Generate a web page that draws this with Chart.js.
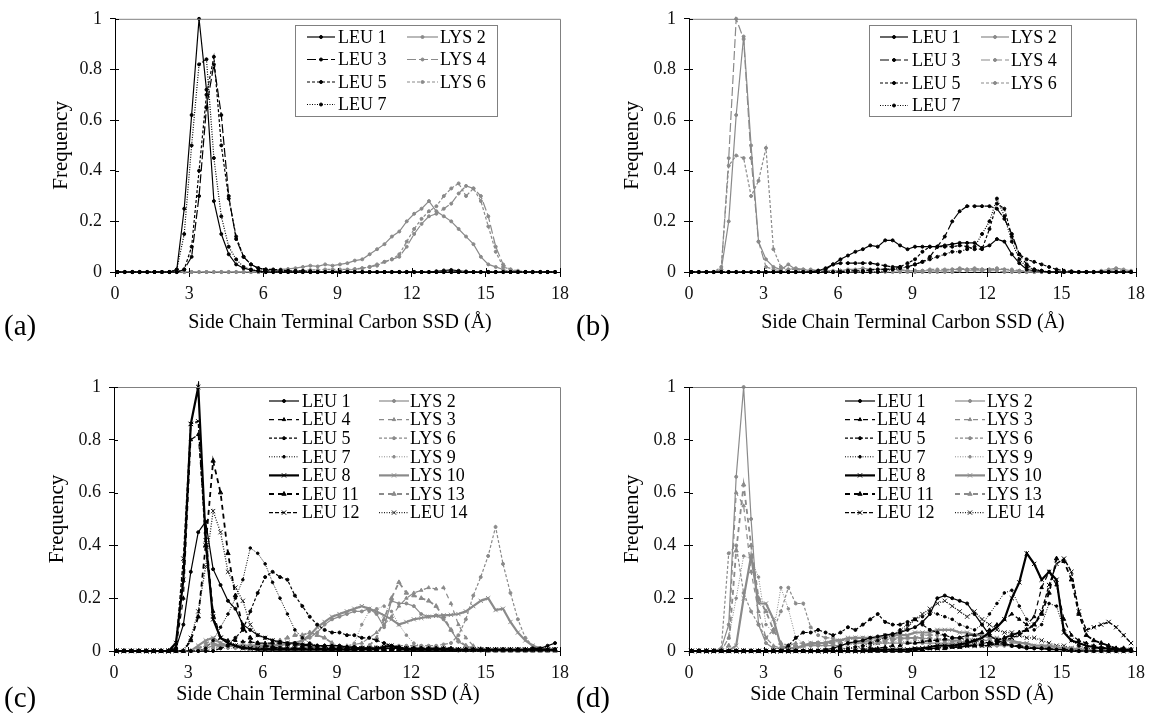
<!DOCTYPE html>
<html><head><meta charset="utf-8">
<script src="https://cdn.jsdelivr.net/npm/chart.js@4.4.1/dist/chart.umd.min.js"></script>
<style>
body{margin:0;background:#fff;width:1151px;height:713px;position:relative;overflow:hidden;font-family:"Liberation Serif","Times New Roman",serif;}
canvas{position:absolute;display:block;}
.lab{position:absolute;font-size:29px;color:#000;line-height:34px;}
</style></head><body>
<canvas id="ca" width="575" height="345" style="left:0;top:0"></canvas>
<canvas id="cb" width="576" height="345" style="left:575px;top:0"></canvas>
<canvas id="cc" width="575" height="368" style="left:0;top:345px"></canvas>
<canvas id="cd" width="576" height="368" style="left:575px;top:345px"></canvas>
<div class="lab" style="left:4px;top:308px">(a)</div>
<div class="lab" style="left:576px;top:308px">(b)</div>
<div class="lab" style="left:4px;top:680px">(c)</div>
<div class="lab" style="left:576px;top:680px">(d)</div>
<script>
// ---------- data ----------
const binX = [0.1,0.4,0.7,1.0,1.3,1.6,1.9,2.2,2.5,2.8,3.1,3.4,3.7,4.0,4.3,4.6,4.9,5.2,5.5,5.8,6.1,6.4,6.7,7.0,7.3,7.6,7.9,8.2,8.5,8.8,9.1,9.4,9.7,10.0,10.3,10.6,10.9,11.2,11.5,11.8,12.1,12.4,12.7,13.0,13.3,13.6,13.9,14.2,14.5,14.8,15.1,15.4,15.7,16.0,16.3,16.6,16.9,17.2,17.5,17.8];
const xTicks = [0,3,6,9,12,15,18];
const yTicks = [0,0.2,0.4,0.6,0.8,1];
const xTitle = 'Side Chain Terminal Carbon SSD (Å)';
const yTitle = 'Frequency';

// panel (a)
const a_LEU1 = [0,0,0,0,0,0,0,0,0.01,0.25, 0.62,1,0.72,0.28,0.15,0.07,0.03,0.015,0.008,0.004, 0,0,0,0,0,0,0,0,0,0, 0,0,0,0,0,0,0,0,0,0, 0,0,0,0.003,0.006,0.008,0.005,0.002,0,0, 0,0,0,0,0,0,0,0,0,0];
const a_LEU3 = [0,0,0,0,0,0,0,0,0,0.01, 0.06,0.3,0.65,0.82,0.62,0.3,0.13,0.06,0.03,0.015, 0.01,0.005,0.003,0,0,0,0,0,0,0, 0,0,0,0,0,0,0,0,0,0, 0,0,0,0,0,0,0,0,0,0, 0,0,0,0,0,0,0,0,0,0];
const a_LEU5 = [0,0,0,0,0,0,0,0,0,0.01, 0.1,0.4,0.7,0.85,0.5,0.29,0.14,0.06,0.03,0.015, 0.01,0.01,0.008,0.005,0.005,0.004,0.003,0,0,0, 0,0,0,0,0,0,0,0,0,0, 0,0,0,0,0,0,0,0,0,0, 0,0,0,0,0,0,0,0,0,0];
const a_LEU7 = [0,0,0,0,0,0,0,0,0.01,0.15, 0.5,0.82,0.84,0.45,0.22,0.1,0.05,0.02,0.01,0.005, 0,0,0,0,0,0,0,0,0,0, 0,0,0,0,0,0,0,0,0,0, 0,0,0,0,0,0,0,0,0,0, 0,0,0,0,0,0,0,0,0,0];
const a_LYS2 = [0,0,0,0,0,0,0,0,0,0, 0,0,0,0,0,0,0,0,0,0, 0.005,0.008,0.01,0.012,0.015,0.02,0.025,0.022,0.03,0.025, 0.03,0.035,0.045,0.05,0.07,0.09,0.11,0.14,0.16,0.2, 0.23,0.25,0.28,0.24,0.22,0.2,0.17,0.14,0.11,0.06, 0.03,0.02,0.01,0,0,0,0,0,0,0];
const a_LYS4 = [0,0,0,0,0,0,0,0,0,0, 0,0,0,0,0,0,0,0,0,0, 0,0,0,0,0,0,0,0,0.002,0.003, 0.005,0.008,0.01,0.015,0.02,0.03,0.04,0.05,0.06,0.1, 0.15,0.19,0.22,0.23,0.25,0.27,0.31,0.34,0.33,0.3, 0.22,0.1,0.03,0.01,0,0,0,0,0,0];
const a_LYS6 = [0,0,0,0,0,0,0,0,0,0, 0,0,0,0,0,0,0,0,0,0, 0.003,0.004,0.005,0.005,0.006,0.006,0.008,0.008,0.01,0.01, 0.01,0.01,0.012,0.015,0.02,0.025,0.04,0.05,0.07,0.12, 0.17,0.21,0.24,0.26,0.3,0.33,0.35,0.3,0.33,0.28, 0.18,0.08,0.02,0.01,0.005,0,0,0,0,0];

// panel (b)
const b_LEU1 = [0,0,0,0,0,0,0,0,0,0, 0,0,0,0,0,0,0,0.005,0.015,0.03, 0.05,0.065,0.08,0.09,0.105,0.1,0.125,0.125,0.105,0.09, 0.1,0.1,0.1,0.1,0.105,0.11,0.115,0.115,0.115,0.095, 0.105,0.13,0.12,0.07,0.035,0.01,0.005,0.003,0,0, 0,0,0,0,0,0,0,0,0,0];
const b_LEU3 = [0,0,0,0,0,0,0,0,0,0, 0,0,0,0,0,0,0,0.005,0.01,0.03, 0.035,0.035,0.035,0.035,0.035,0.03,0.025,0.02,0.02,0.02, 0.03,0.04,0.06,0.1,0.14,0.2,0.24,0.26,0.26,0.26, 0.26,0.25,0.21,0.15,0.07,0.03,0.01,0.005,0,0, 0,0,0,0,0,0,0,0,0,0];
const b_LEU5 = [0,0,0,0,0,0,0,0,0,0, 0,0,0,0,0,0,0,0,0,0, 0,0.005,0.005,0.005,0.008,0.01,0.01,0.012,0.02,0.035, 0.05,0.08,0.1,0.1,0.1,0.1,0.105,0.1,0.09,0.09, 0.17,0.27,0.25,0.14,0.07,0.05,0.04,0.03,0.02,0.01, 0.005,0.003,0,0,0,0,0,0,0,0];
const b_LEU7 = [0,0,0,0,0,0,0,0,0,0, 0,0,0,0,0,0,0,0,0,0, 0,0,0,0,0,0,0.005,0.01,0.015,0.02, 0.03,0.04,0.05,0.06,0.07,0.08,0.08,0.09,0.1,0.15, 0.2,0.29,0.22,0.12,0.05,0.02,0.01,0.005,0,0, 0,0,0,0,0,0,0,0,0,0];
const b_LYS2 = [0,0,0,0,0.01,0.2,0.62,0.93,0.5,0.12, 0.05,0.02,0.01,0.03,0.01,0.01,0.005,0.005,0.005,0.005, 0.005,0.01,0.01,0.015,0.01,0.01,0.01,0.01,0.01,0.005, 0.005,0.005,0.005,0.005,0.005,0.01,0.01,0.01,0.015,0.01, 0.01,0.01,0.01,0.005,0.005,0,0,0,0,0, 0,0,0,0,0,0.005,0.01,0.015,0.01,0.005];
const b_LYS4 = [0,0,0,0,0.01,0.45,1,0.92,0.45,0.12, 0.02,0.01,0.005,0.01,0.015,0.01,0.01,0.005,0,0, 0,0,0,0,0,0,0,0,0,0, 0,0,0,0,0,0,0.005,0.005,0.005,0.005, 0.005,0.005,0,0,0,0,0,0,0,0, 0,0,0,0,0,0,0.005,0.01,0.005,0];
const b_LYS6 = [0,0,0,0,0.02,0.42,0.46,0.45,0.3,0.36, 0.49,0.09,0.02,0.01,0.01,0.005,0.005,0,0,0, 0.005,0.005,0.005,0.005,0.01,0.01,0.01,0.01,0.005,0.005, 0.005,0.005,0.01,0.01,0.01,0.01,0.015,0.01,0.01,0.01, 0.01,0.015,0.01,0.01,0.005,0.005,0,0,0,0, 0,0,0,0,0,0,0,0,0,0];

// panel (c)
const c_LEU1 = [0,0,0,0,0,0,0,0,0.01,0.1, 0.3,0.45,0.49,0.31,0.25,0.19,0.16,0.1,0.08,0.06, 0.05,0.04,0.035,0.03,0.03,0.025,0.025,0.02,0.02,0.02, 0.02,0.015,0.015,0.01,0.01,0.01,0.01,0.01,0.01,0.01, 0.01,0.01,0.005,0.005,0.005,0.005,0.005,0.005,0.005,0.005, 0.005,0.005,0.005,0.005,0.005,0.005,0.01,0.01,0.02,0.03];
const c_LEU4 = [0,0,0,0,0,0,0,0,0.01,0.2, 0.8,0.82,0.45,0.15,0.05,0.04,0.04,0.035,0.035,0.03, 0.03,0.03,0.03,0.025,0.025,0.02,0.02,0.02,0.02,0.015, 0.015,0.015,0.015,0.01,0.01,0.01,0.01,0.01,0.01,0.01, 0.01,0.01,0.01,0.01,0.01,0.01,0.005,0.005,0.005,0.005, 0.005,0.005,0.005,0.005,0.005,0.005,0.005,0.005,0.005,0.005];
const c_LEU5 = [0,0,0,0,0,0,0,0,0,0, 0,0,0,0,0.01,0.02,0.05,0.08,0.15,0.22, 0.28,0.3,0.28,0.27,0.21,0.17,0.13,0.1,0.08,0.07, 0.07,0.06,0.06,0.05,0.05,0.04,0.03,0.02,0.015,0.01, 0.01,0.01,0.01,0.01,0.01,0.01,0.005,0.005,0.005,0.005, 0.005,0.005,0.005,0.005,0.005,0.005,0.005,0.005,0.005,0.005];
const c_LEU7 = [0,0,0,0,0,0,0,0,0,0, 0,0,0.01,0.04,0.09,0.14,0.2,0.27,0.39,0.37, 0.33,0.26,0.2,0.14,0.08,0.05,0.03,0.02,0.015,0.01, 0.01,0.01,0.01,0.005,0.005,0.005,0.005,0.005,0.005,0.005, 0.005,0.005,0.005,0.005,0.005,0.005,0.005,0.005,0.005,0.005, 0.005,0.005,0.005,0.005,0.005,0.005,0.005,0.005,0.005,0.005];
const c_LEU8 = [0,0,0,0,0,0,0,0,0.03,0.27, 0.86,1,0.42,0.12,0.05,0.03,0.02,0.01,0.01,0.005, 0.005,0.005,0.005,0.005,0.005,0.005,0.005,0.005,0.005,0.005, 0.005,0.005,0.005,0.01,0.01,0.01,0.015,0.02,0.01,0.005, 0.005,0.005,0.005,0.005,0.005,0.005,0.005,0.005,0.005,0.005, 0.005,0.005,0.005,0.005,0.005,0.005,0.005,0.005,0.005,0.005];
const c_LEU11 = [0,0,0,0,0,0,0,0,0,0, 0.04,0.13,0.4,0.72,0.6,0.37,0.21,0.09,0.05,0.03, 0.02,0.015,0.01,0.01,0.01,0.01,0.01,0.01,0.005,0.005, 0.005,0.005,0.005,0.005,0.005,0.005,0.005,0.005,0.005,0.005, 0.005,0.005,0.005,0.005,0.005,0.005,0.005,0.005,0.005,0.005, 0.005,0.005,0.005,0.005,0.005,0.005,0.005,0.005,0.005,0.005];
const c_LEU12 = [0,0,0,0,0,0,0,0,0.02,0.35, 0.86,0.87,0.4,0.13,0.05,0.03,0.02,0.015,0.01,0.01, 0.01,0.01,0.01,0.01,0.01,0.01,0.01,0.01,0.01,0.01, 0.01,0.01,0.01,0.01,0.01,0.01,0.01,0.01,0.01,0.01, 0.005,0.005,0.005,0.005,0.005,0.005,0.005,0.005,0.005,0.005, 0.005,0.005,0.005,0.005,0.005,0.005,0.005,0.005,0.005,0.005];
const c_LEU14 = [0,0,0,0,0,0,0,0,0,0, 0.05,0.15,0.32,0.53,0.45,0.3,0.24,0.19,0.1,0.06, 0.05,0.04,0.03,0.03,0.025,0.02,0.02,0.015,0.015,0.01, 0.01,0.01,0.01,0.01,0.01,0.01,0.01,0.01,0.01,0.01, 0.01,0.01,0.01,0.01,0.01,0.005,0.005,0.005,0.005,0.005, 0.005,0.005,0.005,0.005,0.005,0.005,0.005,0.005,0.005,0.005];
const c_LYS2 = [0,0,0,0,0,0,0,0,0,0, 0,0,0.01,0.02,0.02,0.02,0.015,0.015,0.015,0.015, 0.015,0.02,0.02,0.025,0.03,0.04,0.05,0.07,0.1,0.12, 0.13,0.14,0.15,0.15,0.16,0.14,0.09,0.19,0.18,0.18, 0.17,0.14,0.13,0.135,0.12,0.08,0.035,0.02,0.01,0.005, 0.005,0,0,0,0,0,0,0,0,0];
const c_LYS3 = [0,0,0,0,0,0,0,0,0,0, 0,0.01,0.03,0.04,0.03,0.02,0.02,0.015,0.015,0.01, 0.01,0.01,0.01,0.01,0.01,0.01,0.015,0.015,0.02,0.02, 0.02,0.02,0.025,0.03,0.05,0.07,0.1,0.13,0.17,0.2, 0.22,0.23,0.24,0.235,0.24,0.18,0.1,0.05,0.02,0.01, 0.005,0.005,0,0,0,0,0,0,0,0];
const c_LYS6 = [0,0,0,0,0,0,0,0,0,0, 0,0,0,0.01,0.02,0.02,0.015,0.01,0.01,0.01, 0.01,0.01,0.01,0.01,0.01,0.01,0.01,0.01,0.01,0.01, 0.01,0.01,0.01,0.01,0.015,0.015,0.02,0.02,0.02,0.02, 0.02,0.02,0.02,0.02,0.025,0.03,0.06,0.12,0.21,0.28, 0.36,0.47,0.33,0.22,0.12,0.05,0.02,0.01,0.005,0];
const c_LYS9 = [0,0,0,0,0,0,0,0,0,0, 0,0,0.005,0.01,0.01,0.01,0.01,0.01,0.005,0.005, 0.005,0.005,0.01,0.01,0.01,0.015,0.015,0.02,0.02,0.02, 0.01,0.015,0.03,0.1,0.15,0.16,0.17,0.15,0.1,0.06, 0.03,0.02,0.01,0.01,0.005,0.005,0,0,0,0, 0,0,0,0,0,0,0,0,0,0];
const c_LYS10 = [0,0,0,0,0,0,0,0,0,0, 0,0.02,0.04,0.05,0.03,0.02,0.02,0.02,0.02,0.02, 0.02,0.02,0.025,0.03,0.03,0.04,0.06,0.09,0.11,0.13, 0.14,0.15,0.16,0.17,0.16,0.15,0.135,0.12,0.1,0.11, 0.12,0.125,0.13,0.133,0.135,0.137,0.14,0.15,0.17,0.19, 0.2,0.155,0.16,0.11,0.07,0.04,0.02,0.01,0.005,0];
const c_LYS13 = [0,0,0,0,0,0,0,0,0,0, 0,0.01,0.02,0.03,0.02,0.02,0.02,0.02,0.02,0.02, 0.02,0.03,0.04,0.05,0.06,0.06,0.07,0.06,0.05,0.03, 0.01,0.01,0.01,0.015,0.02,0.05,0.12,0.2,0.26,0.22, 0.21,0.2,0.19,0.17,0.13,0.08,0.04,0.02,0.01,0.005, 0,0,0,0,0,0,0,0,0,0];

// panel (d)
const d_LEU1 = [0,0,0,0,0,0,0,0,0,0, 0,0,0,0,0,0,0,0,0.005,0.01, 0.02,0.03,0.035,0.04,0.05,0.055,0.06,0.065,0.07,0.08, 0.09,0.11,0.14,0.2,0.21,0.2,0.19,0.18,0.14,0.1, 0.06,0.04,0.03,0.02,0.015,0.01,0.01,0.01,0.005,0.005, 0.005,0,0,0,0,0,0,0,0,0];
const d_LEU4 = [0,0,0,0,0,0,0,0,0,0, 0,0,0,0,0,0,0,0,0,0, 0,0,0,0.005,0.01,0.01,0.015,0.02,0.02,0.03, 0.03,0.035,0.04,0.04,0.045,0.05,0.05,0.06,0.06,0.07, 0.08,0.1,0.12,0.14,0.12,0.1,0.13,0.24,0.3,0.25, 0.12,0.06,0.04,0.03,0.02,0.015,0.01,0.01,0.005,0.005];
const d_LEU5 = [0,0,0,0,0,0,0,0,0,0, 0,0,0,0.02,0.05,0.07,0.07,0.08,0.07,0.06, 0.07,0.09,0.08,0.1,0.12,0.14,0.11,0.1,0.1,0.11, 0.12,0.1,0.08,0.07,0.06,0.05,0.05,0.04,0.04,0.035, 0.03,0.03,0.025,0.02,0.02,0.015,0.01,0.01,0.01,0.005, 0.005,0.005,0,0,0,0,0,0,0,0];
const d_LEU7 = [0,0,0,0,0,0,0,0,0,0, 0,0,0,0,0,0,0,0,0,0, 0.01,0.01,0.015,0.02,0.03,0.04,0.05,0.06,0.08,0.1, 0.12,0.13,0.15,0.14,0.13,0.12,0.1,0.09,0.08,0.1, 0.14,0.18,0.22,0.23,0.17,0.12,0.08,0.1,0.18,0.17, 0.08,0.04,0.02,0.01,0.01,0.005,0,0,0,0];
const d_LEU8 = [0,0,0,0,0,0,0,0,0,0, 0,0,0,0,0,0,0,0,0,0, 0,0,0,0,0,0.005,0.005,0.005,0.005,0.005, 0.01,0.01,0.015,0.02,0.02,0.02,0.025,0.03,0.04,0.05, 0.07,0.09,0.12,0.2,0.26,0.37,0.33,0.27,0.3,0.27, 0.07,0.04,0.03,0.02,0.015,0.01,0.01,0.005,0.005,0.005];
const d_LEU11 = [0,0,0,0,0,0,0,0,0,0, 0,0,0,0,0,0,0,0,0,0, 0,0,0,0,0,0,0,0,0,0, 0.005,0.005,0.01,0.01,0.01,0.015,0.015,0.02,0.02,0.025, 0.03,0.04,0.05,0.06,0.07,0.08,0.1,0.14,0.22,0.35, 0.34,0.27,0.14,0.06,0.04,0.03,0.02,0.01,0.01,0.005];
const d_LEU12 = [0,0,0,0,0,0,0,0,0,0, 0,0,0,0,0,0,0,0,0,0, 0,0,0,0,0.005,0.005,0.005,0.005,0.005,0.005, 0.005,0.01,0.01,0.01,0.015,0.015,0.015,0.02,0.02,0.02, 0.02,0.03,0.04,0.05,0.06,0.08,0.1,0.15,0.25,0.33, 0.35,0.3,0.15,0.08,0.09,0.1,0.11,0.09,0.06,0.03];
const d_LEU14 = [0,0,0,0,0,0,0,0,0,0, 0,0,0,0,0,0,0,0,0,0, 0.005,0.01,0.01,0.015,0.02,0.03,0.04,0.05,0.07,0.09, 0.12,0.14,0.16,0.18,0.19,0.17,0.15,0.13,0.15,0.12, 0.1,0.08,0.07,0.07,0.06,0.05,0.05,0.04,0.03,0.02, 0.02,0.01,0.01,0.005,0,0,0,0,0,0];
const d_LYS2 = [0,0,0,0,0.01,0.1,0.66,1,0.5,0.1, 0.03,0.01,0.01,0.01,0.015,0.02,0.02,0.02,0.02,0.02, 0.02,0.03,0.03,0.03,0.03,0.03,0.03,0.03,0.03,0.03, 0.03,0.03,0.03,0.03,0.03,0.03,0.03,0.025,0.025,0.02, 0.02,0.02,0.02,0.02,0.02,0.015,0.015,0.01,0.01,0.01, 0.01,0.01,0.005,0.005,0,0,0,0,0,0];
const d_LYS3 = [0,0,0,0,0,0.05,0.6,0.55,0.3,0.15, 0.05,0.02,0.01,0.02,0.03,0.03,0.03,0.03,0.03,0.035, 0.035,0.04,0.04,0.04,0.045,0.05,0.05,0.05,0.05,0.05, 0.05,0.05,0.045,0.045,0.04,0.04,0.035,0.035,0.03,0.03, 0.03,0.025,0.025,0.02,0.02,0.015,0.015,0.01,0.01,0.01, 0.005,0.005,0.005,0,0,0,0,0,0,0];
const d_LYS6 = [0,0,0,0,0.01,0.37,0.4,0.22,0.15,0.1, 0.05,0.08,0.15,0.24,0.18,0.18,0.09,0.06,0.05,0.05, 0.04,0.04,0.05,0.05,0.05,0.05,0.05,0.05,0.05,0.05, 0.05,0.06,0.06,0.06,0.06,0.05,0.05,0.05,0.04,0.04, 0.04,0.04,0.035,0.03,0.03,0.025,0.02,0.02,0.015,0.01, 0.01,0.01,0.005,0.005,0,0,0,0,0,0];
const d_LYS9 = [0,0,0,0,0,0.05,0.2,0.36,0.35,0.28, 0.1,0.07,0.24,0.16,0.05,0.03,0.02,0.02,0.02,0.02, 0.02,0.025,0.025,0.03,0.03,0.03,0.03,0.035,0.035,0.035, 0.04,0.04,0.04,0.04,0.04,0.035,0.035,0.03,0.03,0.03, 0.025,0.025,0.02,0.02,0.02,0.015,0.015,0.01,0.01,0.01, 0.01,0.005,0.005,0,0,0,0,0,0,0];
const d_LYS10 = [0,0,0,0,0,0,0.02,0.2,0.36,0.18, 0.18,0.12,0.02,0.01,0.01,0.02,0.03,0.03,0.03,0.04, 0.04,0.05,0.05,0.05,0.05,0.05,0.06,0.06,0.06,0.06, 0.07,0.07,0.07,0.08,0.08,0.08,0.07,0.07,0.06,0.06, 0.05,0.05,0.04,0.04,0.03,0.03,0.02,0.02,0.02,0.015, 0.01,0.01,0.005,0.005,0,0,0,0,0,0];
const d_LYS13 = [0,0,0,0,0,0.02,0.38,0.63,0.4,0.2, 0.15,0.08,0.03,0.02,0.02,0.02,0.025,0.03,0.03,0.03, 0.03,0.03,0.035,0.035,0.04,0.04,0.04,0.045,0.045,0.05, 0.05,0.05,0.05,0.045,0.045,0.04,0.04,0.035,0.035,0.03, 0.03,0.025,0.025,0.02,0.02,0.015,0.015,0.01,0.01,0.01, 0.005,0.005,0,0,0,0,0,0,0,0];

// ---------- styles ----------
const K = '#000000', G = '#8a8a8a', FONT = '"Liberation Serif","Times New Roman",serif';
const STY_AB = {
  'LEU 1': {c:K, d:[], w:1.2, p:'circle', r:1.5},
  'LEU 3': {c:K, d:[9,3], w:1.2, p:'circle', r:1.5},
  'LEU 5': {c:K, d:[3,2], w:1.2, p:'circle', r:1.5},
  'LEU 7': {c:K, d:[1,1.5], w:1.2, p:'circle', r:1.5},
  'LYS 2': {c:G, d:[], w:1.2, p:'circle', r:1.5},
  'LYS 4': {c:G, d:[9,3], w:1.2, p:'circle', r:1.5},
  'LYS 6': {c:G, d:[3,2], w:1.2, p:'circle', r:1.5}
};
const STY_CD = {
  'LEU 1': {c:K, d:[], w:1.2, p:'circle', r:1.5},
  'LEU 4': {c:K, d:[5,4], w:1.2, p:'triangle', r:2},
  'LEU 5': {c:K, d:[3,2], w:1.2, p:'circle', r:1.5},
  'LEU 7': {c:K, d:[1,1.5], w:1, p:'circle', r:1.3},
  'LEU 8': {c:K, d:[], w:2.2, p:'crossRot', r:3},
  'LEU 11': {c:K, d:[5,4], w:1.8, p:'triangle', r:2.5},
  'LEU 12': {c:K, d:[4,2], w:1.4, p:'crossRot', r:3},
  'LYS 2': {c:G, d:[], w:1.2, p:'circle', r:1.5},
  'LYS 3': {c:G, d:[5,4], w:1.2, p:'triangle', r:2},
  'LYS 6': {c:G, d:[3,2], w:1.2, p:'circle', r:1.5},
  'LYS 9': {c:G, d:[1,1.5], w:1, p:'circle', r:1.3},
  'LYS 10': {c:G, d:[], w:2.2, p:'crossRot', r:3},
  'LYS 13': {c:G, d:[5,4], w:1.8, p:'triangle', r:2.5},
  'LEU 14': {c:'#222', d:[1,1.5], w:1.3, p:'crossRot', r:3}
};

function framePlugin(L) {
  return {
    id:'frame',
    afterDatasetsDraw(chart){
      const {ctx, chartArea:a} = chart;
      ctx.save();
      ctx.strokeStyle = '#808080'; ctx.lineWidth = 1; ctx.setLineDash([]);
      ctx.beginPath();
      ctx.moveTo(a.left, a.top + 0.5); ctx.lineTo(a.right + 0.5, a.top + 0.5); ctx.lineTo(a.right + 0.5, a.bottom);
      ctx.stroke();
      ctx.strokeStyle = '#000';
      ctx.beginPath();
      xTicks.forEach(v => { const x = Math.round(chart.scales.x.getPixelForValue(v)) + 0.5; ctx.moveTo(x, a.bottom); ctx.lineTo(x, a.bottom - 4); });
      yTicks.forEach(v => { const y = Math.round(chart.scales.y.getPixelForValue(v)) + 0.5; ctx.moveTo(a.left, y); ctx.lineTo(a.left + 4, y); });
      ctx.stroke();
      ctx.restore();
    },
    afterDraw(chart){
      const ctx = chart.ctx;
      ctx.save();
      ctx.fillStyle = '#000';
      ctx.font = L.tf + 'px ' + FONT;
      ctx.textAlign = 'center'; ctx.textBaseline = 'middle';
      ctx.fillText(xTitle, L.tx, L.ty);
      ctx.restore();
    }
  };
}

function legendPlugin(lg) {
  return {
    id:'panelLegend',
    afterDraw(chart){
      const ctx = chart.ctx;
      ctx.save();
      if (lg.box) {
        ctx.strokeStyle = '#808080'; ctx.lineWidth = 1; ctx.setLineDash([]);
        ctx.strokeRect(lg.box[0] + 0.5, lg.box[1] + 0.5, lg.box[2], lg.box[3]);
      }
      lg.cols.forEach(col => {
        col.labels.forEach((lab, r) => {
          const ds = chart.data.datasets.find(d => d.label === lab);
          const y = lg.rows[r];
          ctx.strokeStyle = ds.borderColor; ctx.lineWidth = ds.borderWidth;
          ctx.setLineDash(ds.borderDash);
          ctx.beginPath(); ctx.moveTo(col.x1, y); ctx.lineTo(col.x2, y); ctx.stroke();
          ctx.setLineDash([]);
          ctx.fillStyle = ds.borderColor; ctx.strokeStyle = ds.borderColor; ctx.lineWidth = 1;
          Chart.helpers.drawPoint(ctx, {pointStyle: ds.pointStyle, radius: ds.pointRadius, rotation: 0, borderWidth: 1}, (col.x1 + col.x2) / 2, y);
          ctx.fillStyle = '#000';
          ctx.font = '18px ' + FONT;
          ctx.textBaseline = 'middle'; ctx.textAlign = 'left';
          ctx.fillText(lab, col.tx, y + 1);
        });
      });
      ctx.restore();
    }
  };
}

function makePanel(id, series, sty, L, lg) {
  const datasets = series.map(([label, vals]) => {
    const s = sty[label];
    return {
      label, data: vals.map((v, i) => ({x: binX[i], y: v})),
      borderColor: s.c, backgroundColor: s.c, borderWidth: s.w, borderDash: s.d,
      pointStyle: s.p, pointRadius: s.r, pointBorderWidth: 1,
      pointBackgroundColor: s.c, pointBorderColor: s.c, pointHoverRadius: s.r,
      tension: 0, fill: false, clip: 6
    };
  });
  const tickFont = {family: FONT, size: 18};
  new Chart(document.getElementById(id), {
    type: 'line',
    data: {datasets},
    options: {
      responsive: false, animation: false, devicePixelRatio: 1,
      layout: {padding: {top: L.pt, right: L.pr, left: 0, bottom: 0}},
      plugins: {legend: {display: false}, tooltip: {enabled: false}},
      events: [],
      scales: {
        x: {
          type: 'linear', min: 0, max: 18,
          afterBuildTicks: s => { s.ticks = xTicks.map(v => ({value: v})); },
          afterFit: s => { s.height = L.xh; },
          ticks: {font: tickFont, color: '#111', padding: 6, maxRotation: 0, autoSkip: false},
          grid: {display: true, drawOnChartArea: false, tickLength: 5, color: '#000'},
          border: {display: true, color: '#000', width: 1},
          title: {display: false}
        },
        y: {
          min: 0, max: 1,
          afterBuildTicks: s => { s.ticks = yTicks.map(v => ({value: v})); },
          afterFit: s => { s.width = L.yw; },
          ticks: {font: tickFont, color: '#111', padding: 8, callback: v => String(+Number(v).toFixed(1))},
          grid: {display: true, drawOnChartArea: false, tickLength: 5, color: '#000'},
          border: {display: true, color: '#000', width: 1},
          title: {display: true, text: yTitle, font: {family: FONT, size: 21}, color: '#000', padding: {top: L.tl, bottom: 0}}
        }
      }
    },
    plugins: [framePlugin(L), legendPlugin(lg)]
  });
}

makePanel('ca',
  [['LEU 1',a_LEU1],['LEU 3',a_LEU3],['LEU 5',a_LEU5],['LEU 7',a_LEU7],['LYS 2',a_LYS2],['LYS 4',a_LYS4],['LYS 6',a_LYS6]],
  STY_AB, {pt:17, pr:10, xh:73, yw:115, tl:49, tx:340, ty:323, tf:20},
  {box:[295,25,202,91], rows:[37,59.5,82,104.5], cols:[
    {x1:307, x2:335, tx:338, labels:['LEU 1','LEU 3','LEU 5','LEU 7']},
    {x1:407, x2:438, tx:440, labels:['LYS 2','LYS 4','LYS 6']}]});

makePanel('cb',
  [['LEU 1',b_LEU1],['LEU 3',b_LEU3],['LEU 5',b_LEU5],['LEU 7',b_LEU7],['LYS 2',b_LYS2],['LYS 4',b_LYS4],['LYS 6',b_LYS6]],
  STY_AB, {pt:17, pr:13, xh:73, yw:114, tl:45, tx:338, ty:323, tf:20},
  {box:[294,25,202,91], rows:[37,60,83,105.5], cols:[
    {x1:305, x2:333, tx:337, labels:['LEU 1','LEU 3','LEU 5','LEU 7']},
    {x1:406, x2:434, tx:436, labels:['LYS 2','LYS 4','LYS 6']}]});

const cdLegend = (c1, c2, t1, t2) => ({box:null, rows:[56,74.6,93.2,111.8,130.4,149,167.6], cols:[
    {x1:c1, x2:c1+30, tx:t1, labels:['LEU 1','LEU 4','LEU 5','LEU 7','LEU 8','LEU 11','LEU 12']},
    {x1:c2, x2:c2+30, tx:t2, labels:['LYS 2','LYS 3','LYS 6','LYS 9','LYS 10','LYS 13','LEU 14']}]});

makePanel('cc',
  [['LEU 1',c_LEU1],['LEU 4',c_LEU4],['LEU 5',c_LEU5],['LEU 7',c_LEU7],['LEU 8',c_LEU8],['LEU 11',c_LEU11],['LEU 12',c_LEU12],
   ['LYS 2',c_LYS2],['LYS 3',c_LYS3],['LYS 6',c_LYS6],['LYS 9',c_LYS9],['LYS 10',c_LYS10],['LYS 13',c_LYS13],['LEU 14',c_LEU14]],
  STY_CD, {pt:42, pr:9, xh:62, yw:114, tl:45, tx:328, ty:350, tf:20}, cdLegend(269, 379, 302, 410));

makePanel('cd',
  [['LEU 1',d_LEU1],['LEU 4',d_LEU4],['LEU 5',d_LEU5],['LEU 7',d_LEU7],['LEU 8',d_LEU8],['LEU 11',d_LEU11],['LEU 12',d_LEU12],
   ['LYS 2',d_LYS2],['LYS 3',d_LYS3],['LYS 6',d_LYS6],['LYS 9',d_LYS9],['LYS 10',d_LYS10],['LYS 13',d_LYS13],['LEU 14',d_LEU14]],
  STY_CD, {pt:42, pr:9, xh:62, yw:114, tl:45, tx:327, ty:350, tf:20}, cdLegend(270, 380, 302, 412));
</script>
</body></html>
